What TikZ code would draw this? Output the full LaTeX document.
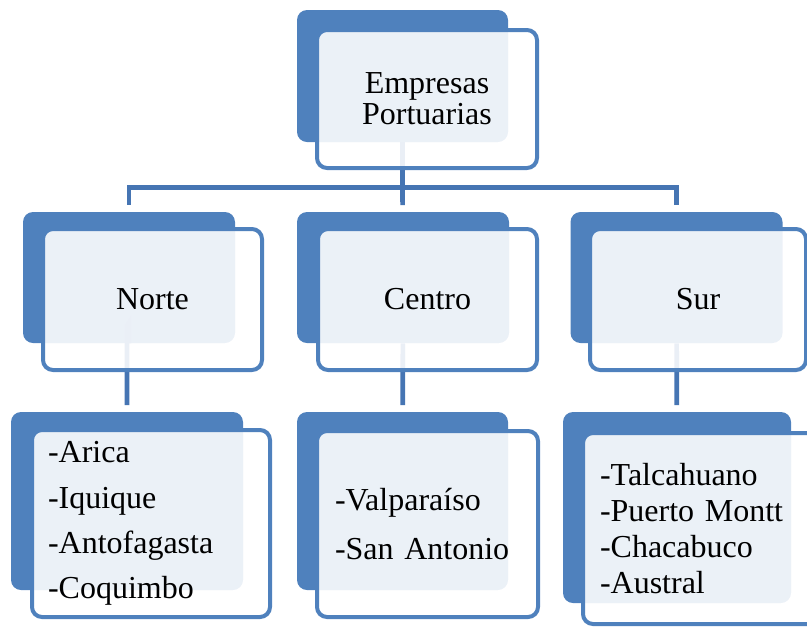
\documentclass[tikz,border=0pt]{standalone}
\usepackage{fontspec}
\setmainfont{Liberation Serif}
\usepackage{xcolor}
\usepackage{tikz}
\usetikzlibrary{positioning, calc}
\definecolor{boxblue}{HTML}{4F81BD}
\definecolor{lineblue}{HTML}{4675B3}

\begin{document}
\begin{tikzpicture}[x=0.75pt, y=-0.75pt,
  back/.style={fill=boxblue, rounded corners=7.5pt, minimum width=159pt, minimum height=98.25pt, inner sep=0pt},
  front/.style={draw=boxblue, line width=3pt, fill=white, fill opacity=0.89, text opacity=1, rounded corners=7.5pt, minimum width=164.25pt, minimum height=105.75pt, inner sep=0pt, align=center, font=\fontsize{24}{23.5}\selectfont},
  list/.style={front, align=left, minimum height=140pt},
  link/.style={draw=lineblue, line width=3.5pt}]
\useasboundingbox (0,0) rectangle (807,626);
\clip (0,0) rectangle (807,626);

\node[back, minimum width=158.25pt, minimum height=99pt] (top-b) at (402.5,76) {};
\node[back] (norte-b) at (129,277.5) {};
\node[back] (centro-b) at (403,277.5) {};
\node[back] (sur-b) at (676.5,277.5) {};
\node[back, minimum width=174pt, minimum height=133.5pt] (norte-l-b) at (127,501) {};
\node[back, minimum width=158.25pt, minimum height=133.5pt] (centro-l-b) at (402.5,501) {};
\node[back, minimum width=171pt, minimum height=143.25pt] (sur-l-b) at (677,507.5) {};

\coordinate (bus) at ($(top-b.south)+(0,45.5)$);
\draw[link] (top-b) -- (bus);
\draw[link, shorten >=5pt] (bus) -| (norte-b);
\draw[link, shorten >=5pt] (bus) -| (sur-b);
\draw[link, shorten >=5pt] (bus) -- (centro-b);
\draw[link, shorten >=5pt] (norte-b) -- ++(0,45) -- ++(-2,3) -- (norte-l-b);
\draw[link, shorten >=5pt] (centro-b) -- (centro-l-b);
\draw[link, shorten >=5pt] (sur-b) -- (sur-l-b);

\node[front, minimum width=165pt, minimum height=103.5pt] (top) at (427,99) {Empresas\\Portuarias};
\node[front] (norte) at (152.5,299.5) {Norte};
\node[front] (centro) at (427.5,299.5) {Centro};
\node[front, minimum width=162pt] (sur) at (698,299.5) {Sur};

\node[list, minimum width=178.5pt, minimum height=140.25pt, text width=154.5pt, inner xsep=12pt, font=\fontsize{24}{34}\selectfont] (norte-l) at (151,523.5) {-Arica\\-Iquique\\-Antofagasta\\-Coquimbo};
\node[list, minimum width=165.75pt, minimum height=139.5pt, text width=138.75pt, inner xsep=13.5pt, font=\fontsize{24}{36.75}\selectfont] (centro-l) at (427.5,524) {-Valparaíso\\-San Antonio};
\node[list, minimum width=183pt, minimum height=143.25pt, text width=157.5pt, inner xsep=12.75pt, font=\fontsize{24}{27}\selectfont] (sur-l) at (705,528.5) {-Talcahuano\\-Puerto Montt\\-Chacabuco\\-Austral};
\end{tikzpicture}
\end{document}
